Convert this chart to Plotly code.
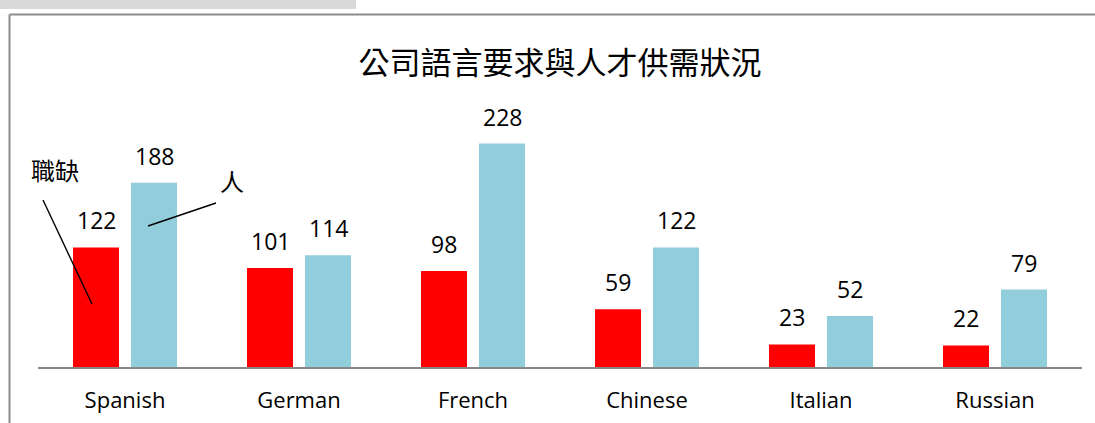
import plotly.graph_objects as go

categories = ["Spanish", "German", "French", "Chinese", "Italian", "Russian"]
vacancies = [122, 101, 98, 59, 23, 22]       # 職缺 (red)
talent = [188, 114, 228, 122, 52, 79]         # 人 (light blue)
title_text = "公司語言要求與人才供需狀況"
label_vac = "職缺"
label_tal = "人"

W, H = 1095, 423
L, R, T, B = 38, 13, 122, 56
PW, PH = W - L - R, H - T - B


def px_x(px):
    return (px - L) / PW


def px_y(py):
    return (H - B - py) / PH


RED = "#FF0000"
BLUE = "#92CDDC"
NUM_FONT = dict(family="Open Sans, Lato, sans-serif", size=23, color="#000000")
CJK = "Noto Sans CJK TC, Noto Sans CJK SC, sans-serif"

fig = go.Figure()
fig.add_trace(go.Bar(x=categories, y=vacancies, name=label_vac, marker=dict(color=RED, line=dict(width=0))))
fig.add_trace(go.Bar(x=categories, y=talent, name=label_tal, marker=dict(color=BLUE, line=dict(width=0))))

annotations = []
for c, v in zip(categories, vacancies):
    annotations.append(dict(x=c, y=v, text=str(v), showarrow=False, xshift=-29, yshift=27,
                            yanchor="middle", font=NUM_FONT))
for c, v in zip(categories, talent):
    annotations.append(dict(x=c, y=v, text=str(v), showarrow=False, xshift=29, yshift=27,
                            yanchor="middle", font=NUM_FONT))

annotations.append(dict(xref="paper", yref="paper", x=px_x(55), y=px_y(169), text=label_vac,
                        showarrow=False, xanchor="center", yanchor="middle",
                        font=dict(family=CJK, size=24, color="#000000")))
annotations.append(dict(xref="paper", yref="paper", x=px_x(232), y=px_y(180), text=label_tal,
                        showarrow=False, xanchor="center", yanchor="middle",
                        font=dict(family=CJK, size=24, color="#000000")))

shapes = [
    # grey strip at very top
    dict(type="rect", xref="paper", yref="paper", x0=px_x(0), x1=px_x(356), y0=px_y(9), y1=px_y(0),
         fillcolor="#D9D9D9", line=dict(width=0), layer="below"),
    # frame left and top
    dict(type="line", xref="paper", yref="paper", x0=px_x(9.5), x1=px_x(9.5), y0=px_y(14.5), y1=px_y(430),
         line=dict(color="#8C8C8C", width=2)),
    dict(type="line", xref="paper", yref="paper", x0=px_x(9.5), x1=px_x(1100), y0=px_y(14.5), y1=px_y(14.5),
         line=dict(color="#8C8C8C", width=2)),
    # leader lines
    dict(type="line", xref="paper", yref="paper", x0=px_x(43), x1=px_x(92), y0=px_y(200), y1=px_y(304),
         line=dict(color="#000000", width=1.4)),
    dict(type="line", xref="paper", yref="paper", x0=px_x(148), x1=px_x(216), y0=px_y(226), y1=px_y(203),
         line=dict(color="#000000", width=1.4)),
]

fig.update_layout(
    width=W, height=H,
    margin=dict(l=L, r=R, t=T, b=B, pad=0, autoexpand=False),
    paper_bgcolor="#FFFFFF", plot_bgcolor="#FFFFFF",
    barmode="group", bargap=1/3, bargroupgap=0.207,
    showlegend=False,
    title=dict(text=title_text, x=560 / W, xref="container", xanchor="center",
               y=1 - 63 / H, yref="container", yanchor="middle",
               font=dict(family=CJK, size=31, color="#000000")),
    annotations=annotations,
    shapes=shapes,
)
fig.update_xaxes(showline=True, linecolor="#878787", linewidth=1.5, showgrid=False, zeroline=False,
                 ticks="", ticklabelstandoff=13, automargin=False,
                 tickfont=dict(family="Open Sans, Lato, sans-serif", size=22, color="#000000"))
fig.update_yaxes(range=[0, 250], visible=False, showgrid=False, zeroline=False, automargin=False)

fig.write_html("out.html", config={"displayModeBar": False},
               post_script="document.body.style.margin='0';document.body.style.overflow='hidden';")
